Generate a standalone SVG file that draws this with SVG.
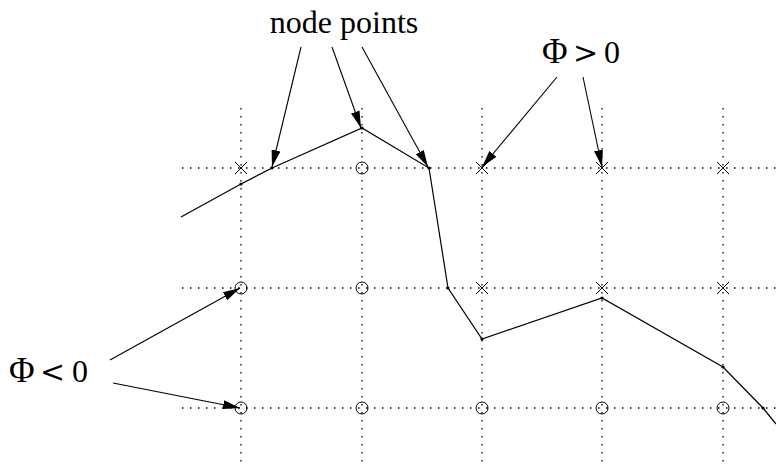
<svg xmlns="http://www.w3.org/2000/svg" width="776" height="464" viewBox="0 0 776 464">
<defs>
<style>
.grid{stroke:#000;stroke-width:1.3;stroke-dasharray:1.5 6.5;fill:none}
.curve{stroke:#000;stroke-width:1.2;fill:none}
.arr{stroke:#000;stroke-width:1.1;fill:none;marker-end:url(#ah)}
.x{stroke:#000;stroke-width:1;fill:none}
.o{stroke:#000;stroke-width:1;fill:none}
.pt{fill:#000}
.lbl{font-family:"Liberation Serif","Times New Roman",serif;font-size:32px;fill:#000}
.phi{font-size:35px}
.rel{font-family:"DejaVu Serif",serif;font-size:30px}
</style>
<marker id="ah" viewBox="0 0 17 9" refX="17" refY="4.5" markerWidth="17" markerHeight="9" markerUnits="userSpaceOnUse" orient="auto">
<path d="M0,0 L17,4.5 L0,9 Z" fill="#000"/>
</marker>
</defs>
<rect width="776" height="464" fill="#fff"/>
<g id="grid">
<line class="grid" x1="182" y1="168" x2="776" y2="168"/>
<line class="grid" x1="182" y1="288" x2="776" y2="288"/>
<line class="grid" x1="182" y1="408" x2="776" y2="408"/>
<line class="grid" x1="241" y1="108" x2="241" y2="464"/>
<line class="grid" x1="362" y1="108" x2="362" y2="464"/>
<line class="grid" x1="482" y1="108" x2="482" y2="464"/>
<line class="grid" x1="602" y1="108" x2="602" y2="464"/>
<line class="grid" x1="723" y1="108" x2="723" y2="464"/>
</g>
<g id="markers-positive">
<path class="x" d="M235,162 l12,12 M247,162 l-12,12"/>
<path class="x" d="M476,162 l12,12 M488,162 l-12,12"/>
<path class="x" d="M596,162 l12,12 M608,162 l-12,12"/>
<path class="x" d="M717,162 l12,12 M729,162 l-12,12"/>
<path class="x" d="M476,282 l12,12 M488,282 l-12,12"/>
<path class="x" d="M596,282 l12,12 M608,282 l-12,12"/>
<path class="x" d="M717,282 l12,12 M729,282 l-12,12"/>
</g>
<g id="markers-negative">
<circle class="o" cx="362" cy="168" r="6"/>
<circle class="o" cx="241" cy="288" r="6"/>
<circle class="o" cx="362" cy="288" r="6"/>
<circle class="o" cx="241" cy="408" r="6"/>
<circle class="o" cx="362" cy="408" r="6"/>
<circle class="o" cx="482" cy="408" r="6"/>
<circle class="o" cx="602" cy="408" r="6"/>
<circle class="o" cx="723" cy="408" r="6"/>
</g>
<g id="interface">
<polyline class="curve" points="181,217 241,184 272,168 362,128 429,168 448,288 482,339 602,298 723,367 763,408 776,424"/>
<g class="pt">
<circle cx="241" cy="184" r="1.6"/>
<circle cx="272" cy="168" r="1.6"/>
<circle cx="362" cy="128" r="1.6"/>
<circle cx="429" cy="168" r="1.6"/>
<circle cx="448" cy="288" r="1.6"/>
<circle cx="482" cy="339" r="1.6"/>
<circle cx="602" cy="298" r="1.6"/>
<circle cx="723" cy="367" r="1.6"/>
<circle cx="763" cy="408" r="1.6"/>
</g>
</g>
<g id="label-node-points">
<text class="lbl" x="344" y="33" text-anchor="middle">node points</text>
</g>
<g id="label-phi-pos">
<text class="lbl" y="63"><tspan class="phi" x="542">Φ</tspan><tspan class="rel" x="573">&gt;</tspan><tspan x="604">0</tspan></text>
</g>
<g id="label-phi-neg">
<text class="lbl" y="382"><tspan class="phi" x="9">Φ</tspan><tspan class="rel" x="40">&lt;</tspan><tspan x="72">0</tspan></text>
</g>
<g id="connectors">
<line class="arr" x1="301" y1="47" x2="272" y2="167"/>
<line class="arr" x1="332" y1="47" x2="361" y2="128"/>
<line class="arr" x1="362" y1="47" x2="428" y2="167"/>
<line class="arr" x1="557" y1="77" x2="482" y2="167"/>
<line class="arr" x1="583" y1="77" x2="602" y2="167"/>
<line class="arr" x1="110" y1="360" x2="240" y2="288"/>
<line class="arr" x1="113" y1="383" x2="240" y2="408"/>
</g>
</svg>
